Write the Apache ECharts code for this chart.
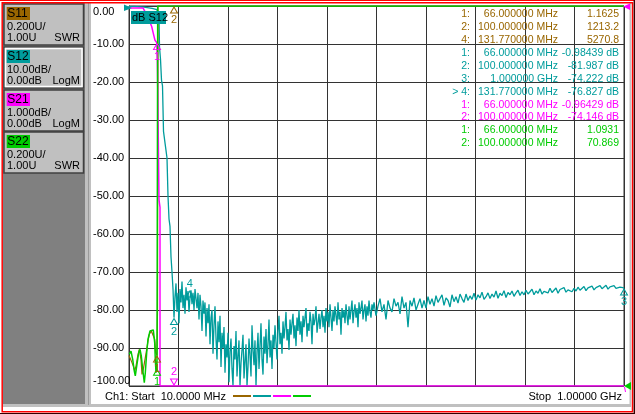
<!DOCTYPE html>
<html>
<head>
<meta charset="UTF-8">
<title>S-parameter sweep</title>
<script src="https://cdn.jsdelivr.net/npm/echarts@6.0.0/dist/echarts.min.js"></script>
<style>
  html, body { margin: 0; padding: 0; background: #fff; }
  #chart { width: 635px; height: 414px; }
</style>
</head>
<body>
<div id="chart"></div>
<script>
// colours of the four traces
var BROWN = '#996600', TEAL = '#009c9c', MAGENTA = '#ff00ff', GREEN = '#00cc00';

// sweep (MHz) and display scales
var freqStart = 10, freqStop = 1000, freqDiv = 99;
var dbTop = 0, dbBottom = -100, dbDiv = 10;     // S12, 10 dB/div
var s21Top = 0, s21Bottom = -10;                 // S21, 1 dB/div
var swrBottom = 1, swrTop = 3;                   // S11/S22, 0.2 U/div

// S12 roll-off, [MHz, dB]
var s12RollOff = [[10,-0.1],[20,-0.1],[40,-0.3],[56,-0.6],[66,-0.98],[70,-3],[71,-10.8],[73,-14],
  [75,-19.5],[77,-21],[79,-33],[82,-36],[84,-38],[86,-40],[88,-50],[90,-56],[92,-58],[94,-66],[96,-70],[98,-74.5]];
// S12 stop band, one reading every 2 MHz from 100 MHz to 498 MHz
var s12DenseStart = 100, s12DenseStep = 2;
var s12Dense = [
  -82.0,-76.5,-73.0,-80.5,-75.5,-83.5,-74.5,-78.0,-72.5,-79.5,-76.0,-81.0,-74.0,-77.5,-75.0,-80.5,-76.8,-74.8,-78.5,-75.5,-80.0,-74.5,-77.0,-79.5,-75.5,
  -82.5,-76.0,-79.0,-85.5,-77.5,-81.0,-78.0,-87.0,-79.5,-83.5,-78.5,-89.0,-82.0,-80.0,-91.5,-84.0,-79.0,-87.5,-93.0,-83.0,-88.5,-81.5,-95.0,-86.0,-90.0,
  -84.5,-96.5,-89.0,-92.5,-86.0,-99.0,-91.0,-87.5,-95.5,-100,-89.5,-93.0,-85.5,-97.5,-92.0,-88.0,-100,-94.0,-90.5,-86.5,-98.0,-93.5,-89.0,-100,-95.0,
  -87.5,-92.0,-97.5,-84.0,-90.5,-94.5,-88.0,-100,-91.0,-86.0,-95.5,-89.5,-83.5,-93.0,-97.0,-87.0,-91.5,-85.0,-94.0,-89.0,-82.5,-92.5,-88.0,-95.5,-86.5,
  -90.0,-84.0,-88.5,-93.0,-85.5,-81.5,-89.0,-86.0,-91.5,-83.0,-87.5,-84.5,-80.5,-88.0,-85.0,-90.5,-82.5,-86.5,-83.5,-81.0,-87.5,-84.0,-89.5,-82.0,-85.5,
  -80.0,-86.5,-83.0,-88.5,-81.5,-84.5,-82.0,-79.5,-87.0,-83.5,-85.5,-80.5,-83.0,-89.0,-81.0,-84.0,-82.5,-79.0,-86.0,-83.5,-81.0,-85.0,-82.0,-80.0,-84.5,
  -81.5,-86.0,-79.5,-83.0,-80.5,-84.5,-78.5,-82.0,-85.5,-80.0,-83.0,-79.0,-81.5,-84.0,-78.0,-82.5,-80.5,-86.5,-79.5,-82.0,-80.0,-83.5,-78.5,-81.5,-84.0,
  -79.0,-82.5,-80.0,-77.5,-83.5,-80.5,-78.5,-82.0,-79.5,-84.5,-78.0,-81.0,-79.5,-77.5,-82.5,-80.0,-78.5,-83.0,-79.0,-81.5,-77.5,-80.5,-82.0,-78.5,-80.0
];
// S12 upper band, one reading every 4 MHz from 500 MHz to 1 GHz
var s12TailStart = 500, s12TailStep = 4;
var s12Tail = [
  -78.0,-81.5,-79.0,-77.0,-80.5,-78.5,-82.5,-77.5,-79.5,-80.5,-77.0,-79.0,-78.0,-81.0,-76.5,-79.5,-78.0,-84.5,-77.5,-79.0,-76.8,-80.0,-78.5,-77.0,-79.5,
  -77.5,-79.5,-76.5,-78.5,-77.0,-79.0,-76.2,-78.0,-77.5,-76.0,-78.8,-76.8,-77.5,-79.2,-76.0,-77.8,-76.5,-78.2,-75.8,-77.0,-78.0,-75.8,-77.5,-76.3,-77.2,
  -75.6,-77.4,-76.0,-76.8,-75.3,-77.2,-76.5,-75.5,-77.0,-75.8,-76.6,-75.0,-76.9,-75.6,-76.2,-74.9,-76.7,-75.4,-76.0,-75.0,-76.4,-75.5,-74.8,-76.2,-75.2,
  -76.0,-74.8,-75.8,-75.2,-74.5,-76.0,-75.0,-75.6,-74.4,-75.8,-75.1,-74.6,-75.5,-74.3,-75.4,-74.9,-74.2,-75.6,-74.6,-75.0,-74.1,-75.3,-74.7,-74.4,-75.2,
  -74.3,-75.0,-74.0,-74.8,-74.4,-73.8,-74.9,-74.2,-74.6,-73.7,-74.7,-74.1,-74.5,-73.6,-74.4,-74.0,-73.5,-74.5,-73.9,-74.2,-73.6,-74.3,-73.8,-74.0,-73.5,
  -74.2
];
// S21, [MHz, dB] (clipped at the bottom of its 1 dB/div scale)
var s21 = [[10,-0.05],[38,-0.05],[42,-0.15],[48.6,-0.32],[55.4,-0.54],[58.6,-0.72],[62,-0.9],[65.4,-0.96],
  [66.6,-1.33],[67.4,-2.1],[70,-5.1],[72,-5.3],[72,-10],[1000,-10]];
// S11 and S22 SWR, [MHz, U] (clipped at the top of the scale)
var s11 = [[10,1.16],[12,1.158],[16,1.123],[18.6,1.105],[21.4,1.079],[24,1.105],[27.4,1.158],[30.6,1.193],
  [34,1.14],[36,1.061],[38.6,1.088],[42.6,1.149],[45.4,1.193],[48,1.237],[50.6,1.272],[54.6,1.29],[58.6,1.29],
  [61.4,1.246],[63.4,1.175],[66,1.1625],[67,1.4],[68,3],[1000,3]];
var s22 = [[10.6,1.167],[14,1.184],[17.4,1.14],[20.6,1.079],[22.6,1.053],[25.4,1.105],[29.4,1.175],[32,1.193],
  [34.6,1.158],[37.4,1.088],[40.6,1.017],[42.6,1.07],[45.4,1.175],[48,1.246],[52,1.29],[56,1.298],[58.6,1.295],
  [61.4,1.228],[62.6,1.14],[64,1.07],[66,1.0931],[67.4,3],[1000,3]];

// marker readout: [trace, marker, frequency text, value text, MHz, value]
var markerRows = [
  ['S11','1:','66.000000 MHz','1.1625',66,1.1625],
  ['S11','2:','100.000000 MHz','1213.2',100,1213.2],
  ['S11','4:','131.770000 MHz','5270.8',131.77,5270.8],
  ['S12','1:','66.000000 MHz','-0.98439 dB',66,-0.98439],
  ['S12','2:','100.000000 MHz','-81.987 dB',100,-81.987],
  ['S12','3:','1.000000 GHz','-74.222 dB',1000,-74.222],
  ['S12','> 4:','131.770000 MHz','-76.827 dB',131.77,-76.827],
  ['S21','1:','66.000000 MHz','-0.96429 dB',66,-0.96429],
  ['S21','2:','100.000000 MHz','-74.146 dB',100,-74.146],
  ['S22','1:','66.000000 MHz','1.0931',66,1.0931],
  ['S22','2:','100.000000 MHz','70.869',100,70.869]
];

var channels = [
  {name:'S11', color:BROWN,   scale:'0.200U/',  ref:'1.00U',  fmt:'SWR'},
  {name:'S12', color:TEAL,    scale:'10.00dB/', ref:'0.00dB', fmt:'LogM'},
  {name:'S21', color:MAGENTA, scale:'1.000dB/', ref:'0.00dB', fmt:'LogM'},
  {name:'S22', color:GREEN,   scale:'0.200U/',  ref:'1.00U',  fmt:'SWR'}
];

var FONT = '11px "Liberation Sans", Arial, sans-serif';
var TABLE_FONT = '10.5px "Liberation Sans", Arial, sans-serif';
var colorOf = {S11:BROWN, S12:TEAL, S21:MAGENTA, S22:GREEN};

var s12 = s12RollOff.slice();
s12Dense.forEach(function (v, i) { s12.push([s12DenseStart + i * s12DenseStep, v]); });
s12Tail.forEach(function (v, i) { s12.push([s12TailStart + i * s12TailStep, v]); });

function clamp(v, lo, hi) { return Math.max(lo, Math.min(hi, v)); }

// markers drawn on the traces (those hidden on the instrument are left out)
function markers(trace, lo, hi, skip) {
  var out = [];
  markerRows.forEach(function (r) {
    if (r[0] !== trace) return;
    var num = r[1].replace('> ', '').replace(':', '');
    if (skip.indexOf(num) >= 0) return;
    var v = clamp(r[5], lo, hi);
    var low = r[5] <= lo, active = r[1].indexOf('>') === 0;
    var up = low || active;
    out.push({
      name: num, coord: [r[4], v],
      symbolRotate: low ? 180 : 0,
      symbolOffset: [0, up ? -4 : 4],
      label: { show: true, position: up ? 'top' : 'bottom', distance: 1, color: colorOf[trace],
               fontSize: 11, fontFamily: 'Liberation Sans', formatter: num }
    });
  });
  return {
    symbol: 'triangle', symbolSize: [7, 6], silent: true, animation: false,
    itemStyle: { color: 'rgba(0,0,0,0)', borderColor: colorOf[trace], borderWidth: 1 },
    data: out
  };
}

function txt(x, y, s, color, align, font) {
  return { type: 'text', z: 100, silent: true,
    style: { x: x, y: y, text: s, fill: color || '#000', font: font || FONT,
             textAlign: align || 'left', textVerticalAlign: 'middle' } };
}

var graphics = [
  // window frame
  { type: 'rect', z: -10, shape: { x: 3, y: 3, width: 628, height: 404 }, style: { fill: '#c0c0c0' } },
  { type: 'rect', z: -9, shape: { x: 3, y: 3, width: 82, height: 401 }, style: { fill: '#808080' } },
  { type: 'rect', z: -9, shape: { x: 88, y: 3, width: 1, height: 402 }, style: { fill: '#9a9a9a' } },
  { type: 'rect', z: -9, shape: { x: 91, y: 3, width: 538.5, height: 401 }, style: { fill: '#ffffff' } },
  { type: 'rect', z: 100, shape: { x: 0, y: 0, width: 635, height: 1 }, style: { fill: '#ff0000' } },
  { type: 'rect', z: 100, shape: { x: 2.2, y: 2.7, width: 630.3, height: 409 }, style: { fill: 'none', stroke: '#ff0000', lineWidth: 1.5 } },
  { type: 'rect', z: 100, shape: { x: 0, y: 413, width: 635, height: 1 }, style: { fill: '#330000' } },
  { type: 'rect', z: 100, shape: { x: 633.6, y: 0, width: 1.4, height: 414 }, style: { fill: '#330000' } },
  // "dB S12" trace tag and reference arrows
  { type: 'rect', z: 100, shape: { x: 131, y: 11, width: 35, height: 13 }, style: { fill: TEAL } },
  txt(132, 17.5, 'dB S12', '#000'),
  { type: 'polygon', z: 100, shape: { points: [[124, 4.5], [132, 8], [124, 11]] }, style: { fill: TEAL } },
  { type: 'polygon', z: 100, shape: { points: [[630, 3.5], [623, 6.5], [630, 10]] }, style: { fill: MAGENTA } },
  { type: 'polygon', z: 100, shape: { points: [[631, 382], [624, 386], [631, 390]] }, style: { fill: GREEN } },
  { type: 'line', z: 100, shape: { x1: 624.5, y1: 387, x2: 625.5, y2: 392 }, style: { stroke: MAGENTA, lineWidth: 1 } },
  // status line
  txt(105, 397, 'Ch1: Start  10.0000 MHz', '#000'),
  txt(622, 397, 'Stop  1.00000 GHz', '#000', 'right')
];

[BROWN, TEAL, MAGENTA, GREEN].forEach(function (c, i) {
  graphics.push({ type: 'line', z: 100, shape: { x1: 233 + 20 * i, y1: 396, x2: 251 + 20 * i, y2: 396 },
                  style: { stroke: c, lineWidth: 2 } });
});

// channel boxes on the left
var boxTops = [4, 47, 90, 132];
channels.forEach(function (ch, i) {
  var y0 = boxTops[i];
  graphics.push({ type: 'rect', z: 90, shape: { x: 4, y: y0, width: 79.5, height: 41 },
                  style: { fill: '#c0c0c0', stroke: '#404040', lineWidth: 1.5 } });
  if (ch.name === 'S12') {
    graphics.push({ type: 'rect', z: 91, shape: { x: 5.5, y: y0 + 1.5, width: 76.5, height: 38 },
                    style: { fill: 'none', stroke: '#ffffff', lineWidth: 1.5 } });
  }
  graphics.push({ type: 'rect', z: 92, shape: { x: 6.7, y: y0 + 3, width: 23.3, height: 13 }, style: { fill: ch.color } });
  graphics.push(txt(7.3, y0 + 10, ch.name, '#000', 'left', '12px "Liberation Sans", Arial, sans-serif'));
  graphics.push(txt(7, y0 + 22.5, ch.scale, '#000'));
  graphics.push(txt(7, y0 + 33.5, ch.ref, '#000'));
  graphics.push(txt(80, y0 + 33.5, ch.fmt, '#000', 'right'));
});

// marker readout table
markerRows.forEach(function (r, i) {
  var y = 14 + 12.95 * i, c = colorOf[r[0]];
  graphics.push(txt(470, y, r[1], c, 'right', TABLE_FONT));
  graphics.push(txt(558, y, r[2], c, 'right', TABLE_FONT));
  graphics.push(txt(619, y, r[3], c, 'right', TABLE_FONT));
});

var chart = echarts.init(document.getElementById('chart'), null, { renderer: 'canvas' });

var option = {
  animation: false,
  backgroundColor: '#ffffff',
  grid: { left: 129, top: 6, width: 495, height: 380, show: true, borderColor: '#333', borderWidth: 1, backgroundColor: 'transparent' },
  xAxis: {
    type: 'value', min: freqStart, max: freqStop, interval: freqDiv,
    axisLine: { show: false }, axisTick: { show: false }, axisLabel: { show: false },
    splitLine: { show: true, lineStyle: { color: '#333', width: 1 } }
  },
  yAxis: [
    {
      type: 'value', min: dbBottom, max: dbTop, interval: dbDiv,
      axisLine: { show: true, lineStyle: { color: '#333' } }, axisTick: { show: false },
      splitLine: { show: true, lineStyle: { color: '#333', width: 1 } },
      axisLabel: {
        color: '#000', fontSize: 11, fontFamily: 'Liberation Sans', align: 'left', margin: 36,
        verticalAlignMaxLabel: 'top', verticalAlignMinLabel: 'bottom',
        formatter: function (v) { return v.toFixed(2); }
      }
    },
    { type: 'value', min: s21Bottom, max: s21Top, show: false, splitLine: { show: false } },
    { type: 'value', min: swrBottom, max: swrTop, show: false, splitLine: { show: false } }
  ],
  series: [
    { name: 'S12', type: 'line', yAxisIndex: 0, data: s12, symbol: 'none', clip: true,
      lineStyle: { color: TEAL, width: 1.3 }, markPoint: markers('S12', dbBottom, dbTop, ['1']) },
    { name: 'S11', type: 'line', yAxisIndex: 2,
      data: s11.map(function (p) { return [p[0], clamp(p[1], swrBottom, swrTop)]; }), symbol: 'none', clip: true,
      lineStyle: { color: BROWN, width: 1.2 }, markPoint: markers('S11', swrBottom, swrTop, ['4']) },
    { name: 'S21', type: 'line', yAxisIndex: 1,
      data: s21.map(function (p) { return [p[0], clamp(p[1], s21Bottom, s21Top)]; }), symbol: 'none', clip: true,
      lineStyle: { color: MAGENTA, width: 1.5 }, markPoint: markers('S21', s21Bottom, s21Top, []) },
    { name: 'S22', type: 'line', yAxisIndex: 2,
      data: s22.map(function (p) { return [p[0], clamp(p[1], swrBottom, swrTop)]; }), symbol: 'none', clip: true,
      lineStyle: { color: GREEN, width: 1.5 }, markPoint: markers('S22', swrBottom, swrTop, ['2']) }
  ],
  graphic: graphics
};

chart.setOption(option);
</script>
</body>
</html>
